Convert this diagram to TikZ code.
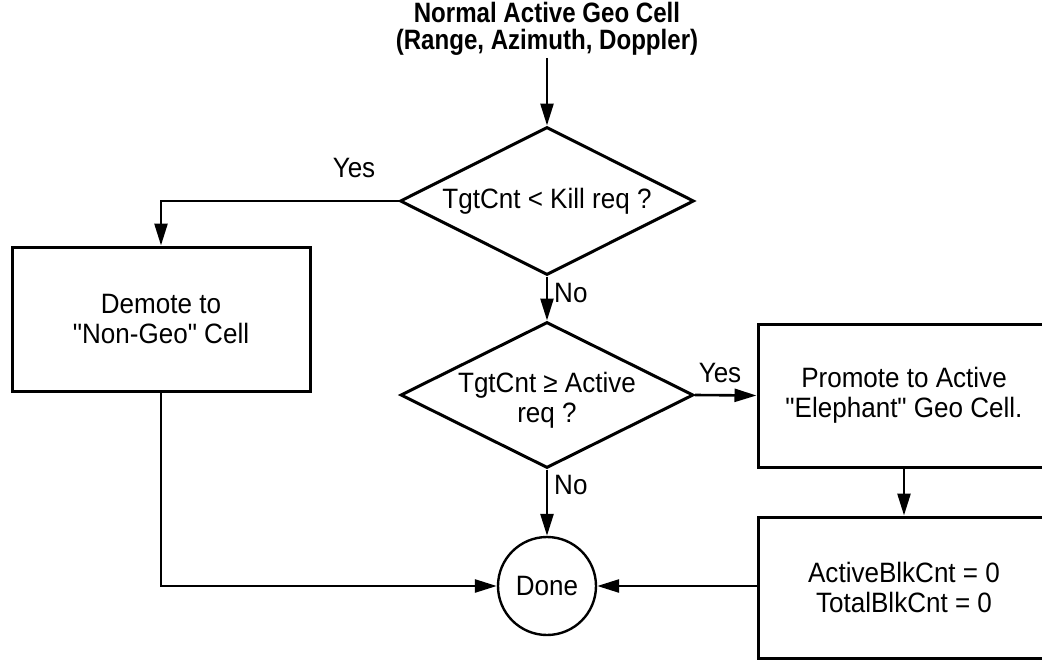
\documentclass[tikz,border=0pt]{standalone}
\usepackage{fontspec}
\setmainfont{Liberation Sans}[FakeStretch=0.93, Ligatures=TeXOff]
\newfontfamily\titlefont{Liberation Sans}[FakeStretch=0.86, Ligatures=TeXOff]
\usetikzlibrary{shapes.geometric,arrows.meta}
\tikzset{
  bodytext/.style={font=\fontsize{28}{30}\selectfont, align=center, inner sep=0pt},
  labeltext/.style={font=\fontsize{28}{30}\selectfont, inner sep=0pt},
  procbox/.style={draw, line width=3pt, rectangle, inner sep=0pt},
  decisionbox/.style={draw, line width=3pt, diamond, inner sep=0pt},
  endcircle/.style={draw, line width=2.4pt, circle, inner sep=0pt, minimum size=98pt},
  arr/.style={line width=2.6pt, -{Triangle[length=22pt,width=13pt]}},
}
\begin{document}
\begin{tikzpicture}[x=1pt,y=-1pt]
\useasboundingbox (0,0) rectangle (1042,661);
\fill[white] (0,0) rectangle (1042,661);
\clip (0,0) rectangle (1042,661);

\node[font=\titlefont\bfseries\fontsize{28}{27}\selectfont, align=center, inner sep=2pt] (title) at (547,29)
  {Normal Active Geo Cell\\(Range, Azimuth, Doppler)};

\node[decisionbox, minimum width=294pt, minimum height=148pt] (d1) at (547,201) {};
\node[bodytext] (d1t) at (547,201) {TgtCnt < Kill req ?};

\node[decisionbox, minimum width=293pt, minimum height=146pt] (d2) at (547,395) {};
\node[bodytext] (d2t) at (547,400) {TgtCnt ≥ Active\\req ?};

\node[procbox, minimum width=298pt, minimum height=144pt, bodytext] (demote) at (161,319)
  {Demote to\\"Non-Geo" Cell};

\node[procbox, minimum width=292pt, minimum height=143pt, bodytext] (promote) at (904,395.5)
  {Promote to Active\\"Elephant" Geo Cell.};

\node[procbox, minimum width=292pt, minimum height=141pt, bodytext] (blk) at (904,587.5)
  {ActiveBlkCnt = 0\\TotalBlkCnt = 0};

\node[endcircle, font=\fontsize{28}{30}\selectfont] (done) at (547,586) {Done};

\draw[arr] (title.south) -- (d1.north);
\draw[arr] (d1.west) -| (demote.north);
\node[labeltext] (yes1) at (354,168) {Yes};
\draw[arr] (d1.south) -- (d2.north);
\node[labeltext, anchor=west] (no1) at (554,293) {No};
\draw[arr] (d2.east) -- (promote.west);
\node[labeltext] (yes2) at (720,373) {Yes};
\draw[arr] (d2.south) -- (done.north);
\node[labeltext, anchor=west] (no2) at (554,485) {No};
\draw[arr] (promote.south) -- (blk.north);
\draw[arr] (done.east -| blk.west) -- (done.east);
\draw[arr] (demote.south) |- (done.west);
\end{tikzpicture}
\end{document}
